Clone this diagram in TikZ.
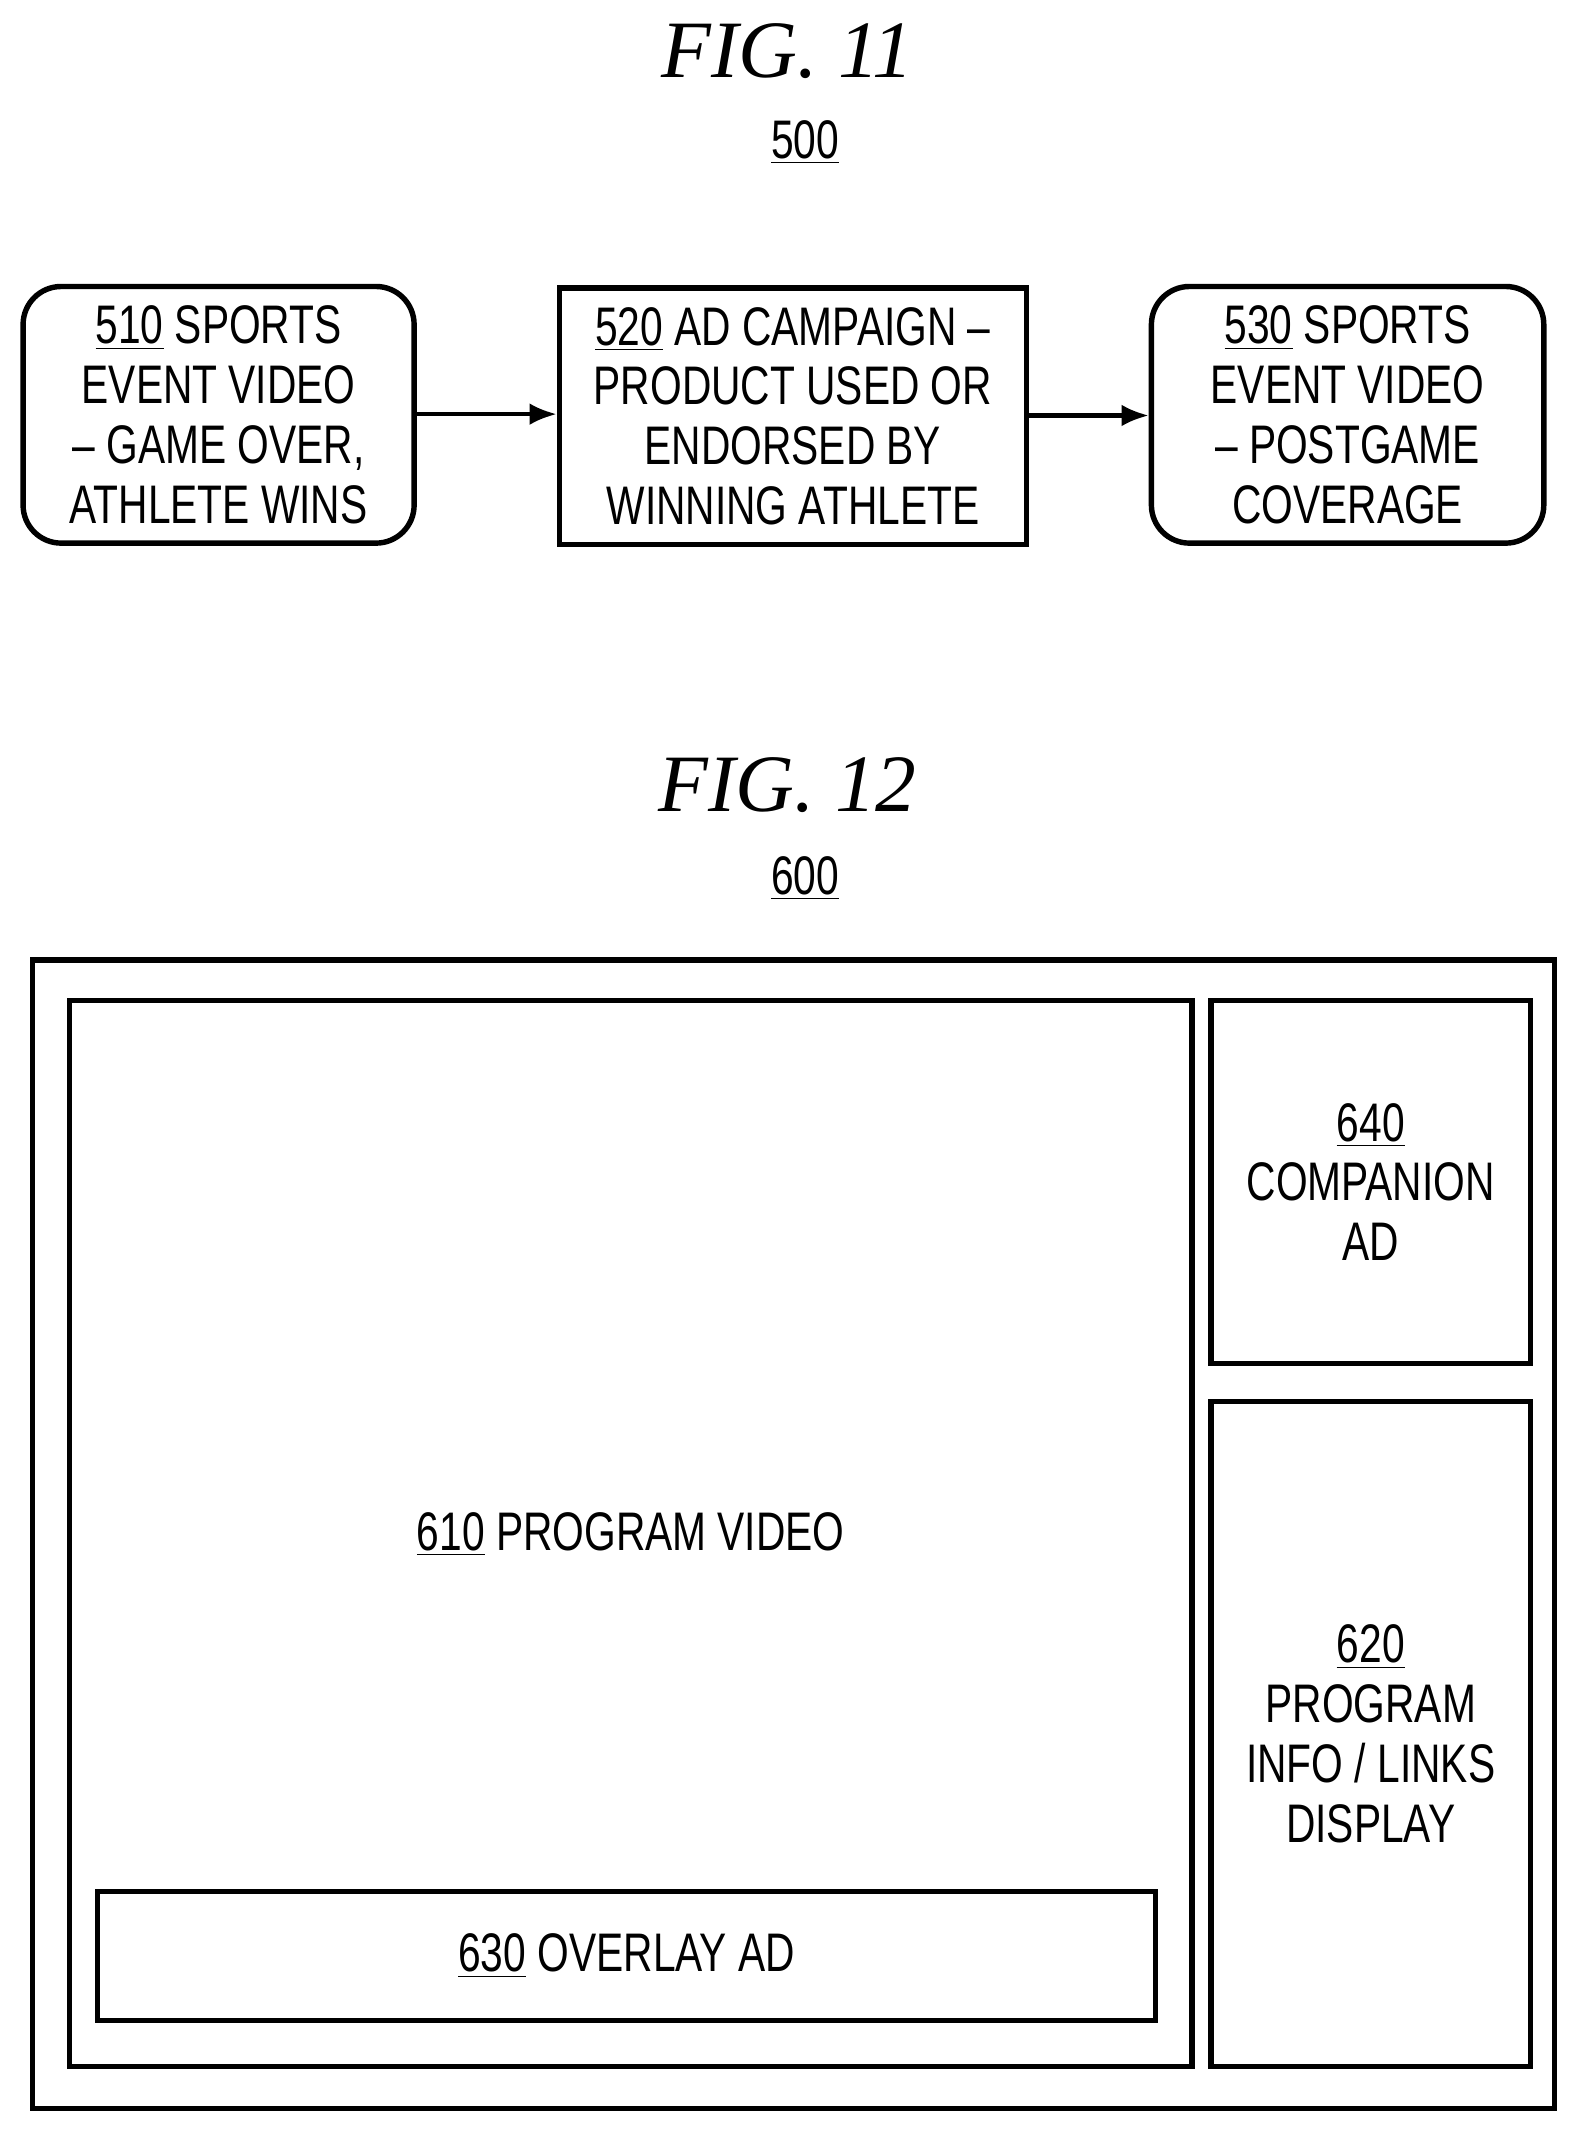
\documentclass[tikz,border=0pt]{standalone}
\usepackage{fontspec}
\setmainfont{Liberation Sans}[FakeStretch=0.75]
\newfontfamily\figfont{Liberation Serif}
\begin{document}
\begin{tikzpicture}[x=0.5pt,y=-0.5pt,
  box/.style={draw,line width=2pt,inner sep=0pt},
  rbox/.style={box,rounded corners=14pt},
  txt/.style={align=center,font=\fontsize{20}{22}\selectfont},
  fig/.style={font=\figfont\itshape\fontsize{30}{30}\selectfont},
  arr/.style={line width=1.5pt,-{Latex[length=10pt,width=8pt]}}]
\usetikzlibrary{arrows.meta}
\useasboundingbox (0,0) rectangle (1160,1568);
\node[fig] (f11) at (580,38) {FIG. 11};
\node[txt] (n500) at (593,105) {\underline{500}};
\node[rbox,minimum width=144pt,minimum height=94.5pt] (b510) at (161,305.5) {};
\node[box,minimum width=172pt,minimum height=94.5pt] (b520) at (584,306.5) {};
\node[rbox,minimum width=144.5pt,minimum height=94.5pt] (b530) at (992.5,305.5) {};
\node[txt] at (b510) {\underline{510} SPORTS\\EVENT VIDEO\\– GAME OVER,\\ATHLETE WINS};
\node[txt] at (b520) {\underline{520} AD CAMPAIGN –\\PRODUCT USED OR\\ENDORSED BY\\WINNING ATHLETE};
\node[txt] at (b530) {\underline{530} SPORTS\\EVENT VIDEO\\– POSTGAME\\COVERAGE};
\draw[arr] (b510.east |- 0,305) -- (b520.west |- 0,305);
\draw[arr] (b520.east |- 0,306) -- (b530.west |- 0,306);
\node[fig] (f12) at (580,578) {FIG. 12};
\node[txt] (n600) at (593,647) {\underline{600}};
\node[box,minimum width=560.5pt,minimum height=423pt] (o600) at (584.5,1130) {};
\node[box,minimum width=413.5pt,minimum height=392.5pt] (b610) at (464.5,1129.5) {};
\node[txt] at (464.5,1130) {\underline{610} PROGRAM VIDEO};
\node[box,minimum width=389.5pt,minimum height=47.5pt] (b630) at (461.5,1440.5) {};
\node[txt] at (b630) {\underline{630} OVERLAY AD};
\node[box,minimum width=117.5pt,minimum height=133.5pt] (b640) at (1009.5,870.5) {};
\node[txt] at (b640) {\underline{640}\\COMPANION\\AD};
\node[box,minimum width=117.5pt,minimum height=245pt] (b620) at (1009.5,1277) {};
\node[txt] at (b620) {\underline{620}\\PROGRAM\\INFO / LINKS\\DISPLAY};
\end{tikzpicture}
\end{document}
